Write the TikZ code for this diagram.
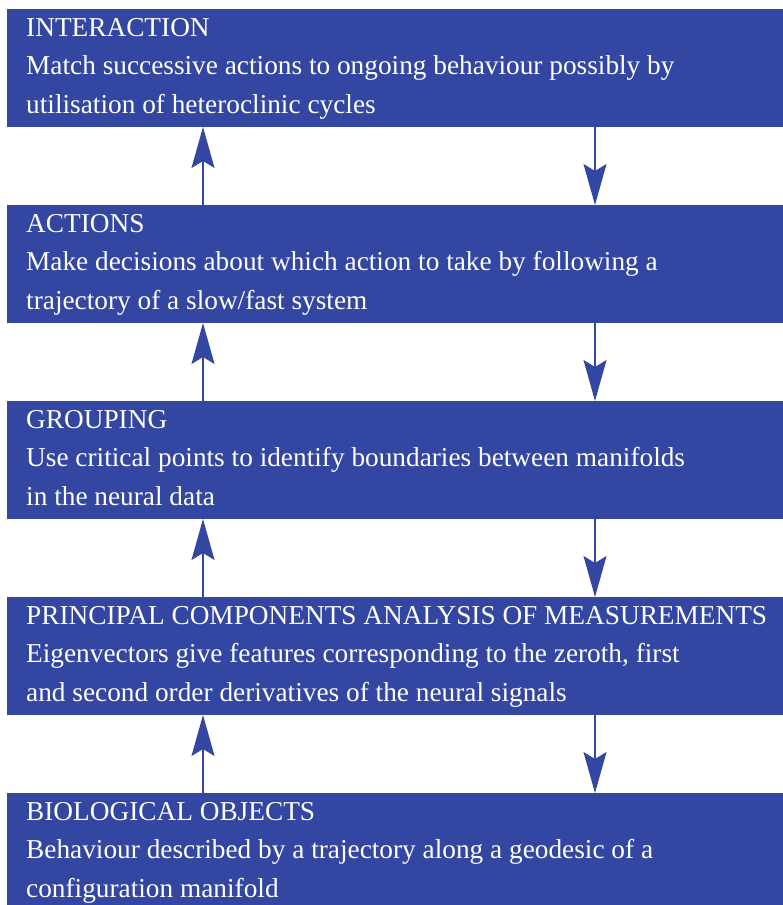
\documentclass[tikz,border=0pt]{standalone}
\usepackage{fontspec}
\setmainfont{Liberation Serif}
\usetikzlibrary{arrows.meta}
\definecolor{boxblue}{RGB}{51,70,161}
\tikzset{
  x=1pt, y=-1pt,
  layer/.style={fill=boxblue, draw=none, rectangle, anchor=north west,
    minimum width=776pt, minimum height=118pt, inner sep=0pt, outer sep=0pt},
  label text/.style={anchor=north west, inner sep=0pt, align=left, text=white,
    font=\fontsize{27.3}{38.5}\selectfont},
  flow/.style={draw=boxblue, line width=1.3pt,
    -{Stealth[length=41pt, width=23pt, inset=7pt]}},
}
\newcommand{\firstline}{\rule{0pt}{20pt}}
\begin{document}
\begin{tikzpicture}
\useasboundingbox (0,0) rectangle (783,905);
\clip (0,0) rectangle (783,905);

% the five layers, top to bottom
\node[layer] (inter) at (7,9) {};
\node[layer] (act)   at (7,205) {};
\node[layer] (group) at (7,401) {};
\node[layer] (pca)   at (7,597) {};
\node[layer] (bio)   at (7,793) {};

\node[label text] (tinter) at ([xshift=19pt, yshift=-7pt]inter.north west)
  {\firstline INTERACTION\\Match successive actions to ongoing behaviour possibly by\\utilisation of heteroclinic cycles};
\node[label text] (tact) at ([xshift=19pt, yshift=-7pt]act.north west)
  {\firstline ACTIONS\\Make decisions about which action to take by following a\\trajectory of a slow/fast system};
\node[label text] (tgroup) at ([xshift=19pt, yshift=-7pt]group.north west)
  {\firstline GROUPING\\Use critical points to identify boundaries between manifolds\\in the neural data};
\node[label text] (tpca) at ([xshift=19pt, yshift=-7pt]pca.north west)
  {\firstline PRINCIPAL COMPONENTS ANALYSIS OF MEASUREMENTS\\Eigenvectors give features corresponding to the zeroth, first\\and second order derivatives of the neural signals};
\node[label text] (tbio) at ([xshift=19pt, yshift=-7pt]bio.north west)
  {\firstline BIOLOGICAL OBJECTS\\Behaviour described by a trajectory along a geodesic of a\\configuration manifold};

% upward connectors (left column)
\foreach \lo/\hi in {act/inter, group/act, pca/group, bio/pca}
  \draw[flow] ([xshift=196pt]\lo.north west) -- ([xshift=196pt]\hi.south west);
% downward connectors (right column)
\foreach \hi/\lo in {inter/act, act/group, group/pca, pca/bio}
  \draw[flow] ([xshift=588pt]\hi.south west) -- ([xshift=588pt]\lo.north west);
\end{tikzpicture}
\end{document}
